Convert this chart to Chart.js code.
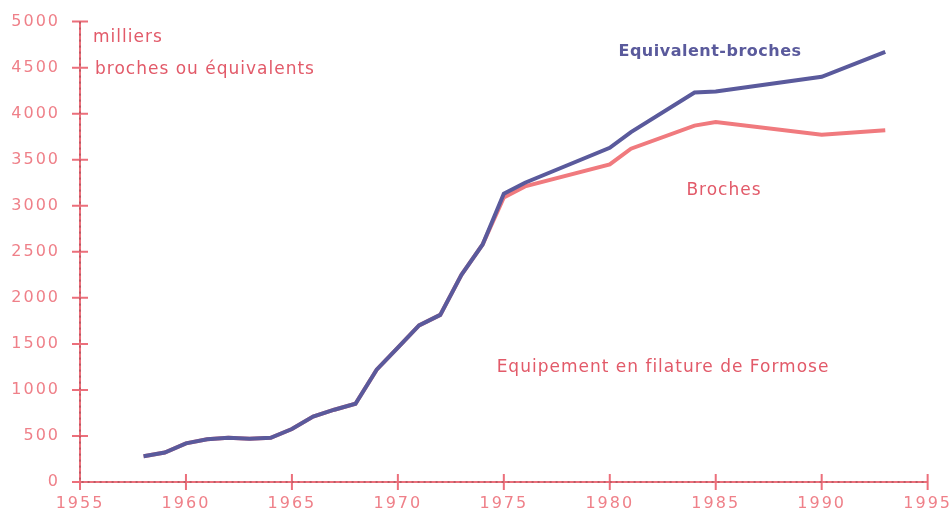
<!DOCTYPE html>
<html>
<head>
<meta charset="utf-8">
<script src="https://cdn.jsdelivr.net/npm/chart.js@4"></script>
<style>
  html, body { margin: 0; padding: 0; background: #fff; }
</style>
</head>
<body>
<canvas id="chart" width="952" height="522"></canvas>
<script>
// values (milliers)
const yearsEquiv = [1958, 1959, 1960, 1961, 1962, 1963, 1964, 1965, 1966, 1967, 1968, 1969, 1970, 1971, 1972, 1973, 1974, 1975, 1976, 1980, 1981, 1984, 1985, 1990, 1993]
const equivBroches = [280, 320, 420, 465, 480, 470, 480, 575, 710, 785, 850, 1220, 1460, 1700, 1815, 2250, 2580, 3130, 3250, 3630, 3800, 4230, 4240, 4400, 4670]

const yearsBroches = [1958, 1959, 1960, 1961, 1962, 1963, 1964, 1965, 1966, 1967, 1968, 1969, 1970, 1971, 1972, 1973, 1974, 1975, 1976, 1980, 1981, 1984, 1985, 1990, 1993]
const broches = [280, 320, 420, 465, 480, 470, 480, 575, 710, 785, 850, 1220, 1460, 1700, 1815, 2250, 2580, 3090, 3210, 3450, 3620, 3870, 3910, 3770, 3820]

const xTicks = [1955, 1960, 1965, 1970, 1975, 1980, 1985, 1990, 1995]
const yTicks = [0, 500, 1000, 1500, 2000, 2500, 3000, 3500, 4000, 4500, 5000]

const pink = '#ec6f7b'
const pinkText = '#ef8089'
const blue = '#5a5a9c'

const toPoints = (xs, ys) => xs.map((x, i) => ({ x: x, y: ys[i] }))

// the scan's lettering is wide, spread the glyphs a little
const spacing = {
    id: 'spacing',
    beforeDraw(chart) {
        chart.ctx.letterSpacing = '2px'
    }
}

// axis lines with cross ticks, like the hand drawn original
const crossAxes = {
    id: 'crossAxes',
    beforeDatasetsDraw(chart) {
        const ctx = chart.ctx
        const xs = chart.scales.x
        const ys = chart.scales.y
        const x0 = xs.getPixelForValue(xTicks[0])
        const x1 = xs.getPixelForValue(xTicks[xTicks.length - 1])
        const y0 = ys.getPixelForValue(yTicks[0])
        const y1 = ys.getPixelForValue(yTicks[yTicks.length - 1])
        ctx.save()
        ctx.strokeStyle = pink
        ctx.lineWidth = 2
        ctx.beginPath()
        ctx.moveTo(x0, y1)
        ctx.lineTo(x0, y0 + 5)
        ctx.moveTo(x0 - 7, y0)
        ctx.lineTo(x1, y0)
        yTicks.forEach(v => {
            const p = ys.getPixelForValue(v)
            ctx.moveTo(x0 - 8, p)
            ctx.lineTo(x0 + 8, p)
        })
        xTicks.forEach(v => {
            const p = xs.getPixelForValue(v)
            ctx.moveTo(p, y0 - 8)
            ctx.lineTo(p, y0 + 8)
        })
        ctx.stroke()
        // the faint dark dotting of the scan
        ctx.strokeStyle = 'rgba(60,40,40,0.55)'
        ctx.lineWidth = 1
        ctx.setLineDash([2, 4])
        ctx.beginPath()
        ctx.moveTo(x0, y1)
        ctx.lineTo(x0, y0)
        ctx.lineTo(x1, y0)
        ctx.stroke()
        ctx.restore()
    }
}

const notes = {
    id: 'notes',
    afterDraw(chart) {
        const ctx = chart.ctx
        ctx.save()
        ctx.letterSpacing = '1px'
        ctx.textBaseline = 'middle'
        ctx.fillStyle = '#e25a69'
        ctx.font = '17px "DejaVu Sans"'
        ctx.textAlign = 'left'
        ctx.fillText('milliers', 93, 38)
        ctx.fillText('broches ou équivalents', 95, 70)
        ctx.textAlign = 'center'
        ctx.fillText('Broches', 724, 191)
        ctx.fillText('Equipement en filature de Formose', 663, 368)
        ctx.fillStyle = blue
        ctx.font = 'bold 16px "DejaVu Sans"'
        ctx.letterSpacing = '0.5px'
        ctx.fillText('Equivalent-broches', 710, 52)
        ctx.restore()
    }
}

const chart = new Chart(document.getElementById('chart').getContext('2d'), {
    type: 'line',
    data: {
        datasets: [{
            label: 'Equivalent-broches',
            data: toPoints(yearsEquiv, equivBroches),
            borderColor: blue,
            borderWidth: 4,
            pointRadius: 0,
            tension: 0,
            order: 1
        }, {
            label: 'Broches',
            data: toPoints(yearsBroches, broches),
            borderColor: '#f07a7e',
            borderWidth: 4,
            pointRadius: 0,
            tension: 0,
            order: 2
        }]
    },
    options: {
        responsive: false,
        animation: false,
        layout: { padding: { left: 0, right: 18, top: 15, bottom: 4 } },
        plugins: {
            legend: { display: false },
            tooltip: { enabled: false }
        },
        scales: {
            x: {
                type: 'linear',
                min: 1955,
                max: 1995,
                afterBuildTicks: (s) => { s.ticks = xTicks.map(v => ({ value: v })) },
                afterFit: (s) => { s.height = 36 },
                grid: { display: false },
                border: { display: false },
                ticks: {
                    color: pinkText,
                    font: { family: 'DejaVu Sans', size: 16 },
                    padding: 4,
                    maxRotation: 0,
                    callback: (v) => String(v)
                }
            },
            y: {
                min: 0,
                max: 5000,
                afterBuildTicks: (s) => { s.ticks = yTicks.map(v => ({ value: v })) },
                afterFit: (s) => { s.width = 80 },
                grid: { display: false },
                border: { display: false },
                ticks: {
                    color: pinkText,
                    font: { family: 'DejaVu Sans', size: 16 },
                    padding: 12,
                    callback: (v) => String(v)
                }
            }
        }
    },
    plugins: [spacing, crossAxes, notes]
})
</script>
</body>
</html>
